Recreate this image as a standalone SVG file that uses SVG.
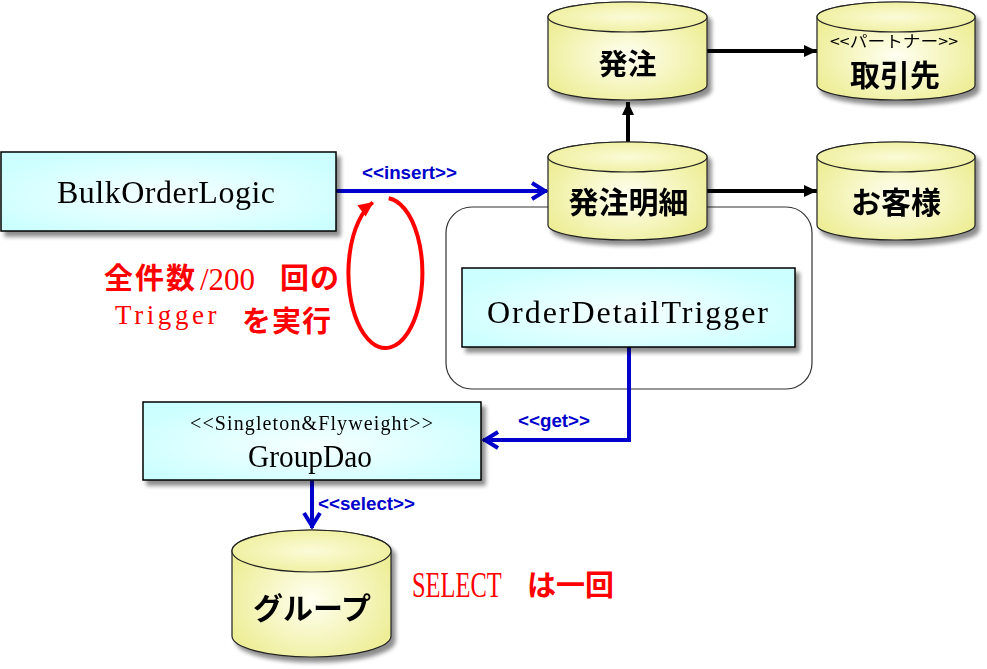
<svg xmlns="http://www.w3.org/2000/svg" width="987" height="669" viewBox="0 0 987 669">
<style>
.box{fill:url(#gBox);stroke:#000;stroke-width:1.5}
.cyl{fill:url(#gCyl);stroke:#222;stroke-width:1.2}
.cylTop{fill:url(#gCylTop);stroke:#222;stroke-width:1.2}
.jp{font-family:"Noto Sans CJK JP","Noto Sans CJK SC",sans-serif;font-weight:bold;fill:#000}
.ser{font-family:"Liberation Serif",serif;fill:#000}
.lbl{font-family:"Liberation Sans",Arial,sans-serif;font-weight:bold;font-size:18px;fill:#0000CC}
.red{fill:#FF0000}
.jpt{font-family:"Noto Sans CJK JP","Noto Sans CJK SC",sans-serif;font-weight:bold}
.sert{font-family:"Liberation Serif",serif;font-weight:normal}
.blue{fill:none;stroke:#0000CC;stroke-width:4}
.blk{fill:none;stroke:#000;stroke-width:4}
</style>
<defs>
<radialGradient id="gBox" cx="50%" cy="55%" r="60%">
<stop offset="0" stop-color="#F6FFFF"/>
<stop offset="1" stop-color="#CCFFFF"/>
</radialGradient>
<radialGradient id="gCyl" cx="50%" cy="55%" r="55%">
<stop offset="0" stop-color="#FFFFF2"/>
<stop offset="1" stop-color="#EEEE99"/>
</radialGradient>
<radialGradient id="gCylTop" cx="50%" cy="50%" r="60%">
<stop offset="0" stop-color="#FBFBD8"/>
<stop offset="1" stop-color="#EEEE99"/>
</radialGradient>
<filter id="sh" x="-10%" y="-10%" width="130%" height="140%">
<feGaussianBlur in="SourceAlpha" stdDeviation="2"/>
<feOffset dx="4" dy="5"/>
<feComponentTransfer><feFuncA type="linear" slope="0.45"/></feComponentTransfer>
<feMerge><feMergeNode/><feMergeNode in="SourceGraphic"/></feMerge>
</filter>
<marker id="aBlue" viewBox="-18 -10 20 20" refX="0" refY="0" markerWidth="20" markerHeight="20" markerUnits="userSpaceOnUse" orient="auto">
<path d="M-15,-8 L-2,0 L-15,8" fill="none" stroke="#0000CC" stroke-width="4"/>
</marker>
<marker id="aBlack" viewBox="-15 -8 16 16" refX="0" refY="0" markerWidth="16" markerHeight="16" markerUnits="userSpaceOnUse" orient="auto">
<path d="M-13,-6 L0,0 L-13,6 Z" fill="#000"/>
</marker>
<marker id="aRed" viewBox="-16 -9 18 18" refX="0" refY="0" markerWidth="18" markerHeight="18" markerUnits="userSpaceOnUse" orient="auto">
<path d="M-14,-7 L1,0 L-14,7 Z" fill="#FF0000"/>
</marker>
</defs>
<rect width="987" height="669" fill="#fff"/>

<g id="trigger-container">
<rect x="446" y="207" width="366" height="182" rx="26" fill="none" stroke="#333" stroke-width="1.2"/>
</g>

<g id="connectors">
<line class="blue" x1="336" y1="191" x2="547" y2="191" marker-end="url(#aBlue)"/>
<text class="lbl" x="362" y="179" textLength="95" lengthAdjust="spacingAndGlyphs">&lt;&lt;insert&gt;&gt;</text>
<polyline class="blue" points="629,347 629,440 483,440" marker-end="url(#aBlue)"/>
<text class="lbl" x="518" y="427" textLength="72" lengthAdjust="spacingAndGlyphs">&lt;&lt;get&gt;&gt;</text>
<line class="blue" x1="312" y1="480" x2="312" y2="528" marker-end="url(#aBlue)"/>
<text class="lbl" x="318" y="510" textLength="97" lengthAdjust="spacingAndGlyphs">&lt;&lt;select&gt;&gt;</text>
<line class="blk" x1="707" y1="51" x2="817" y2="51" marker-end="url(#aBlack)"/>
<line class="blk" x1="707" y1="191" x2="817" y2="191" marker-end="url(#aBlack)"/>
<line class="blk" x1="628" y1="142" x2="628" y2="102" marker-end="url(#aBlack)"/>
<path d="M388.7,198.3 A37,75 0 1 1 372.8,202.5" fill="none" stroke="#FF0000" stroke-width="4" marker-end="url(#aRed)"/>
</g>

<g id="BulkOrderLogic" filter="url(#sh)">
<rect class="box" x="1" y="152" width="335" height="79"/>
<text class="ser" x="57" y="203" font-size="32" textLength="218" lengthAdjust="spacing">BulkOrderLogic</text>
</g>

<g id="OrderDetailTrigger" filter="url(#sh)">
<rect class="box" x="462" y="268" width="333" height="79"/>
<text class="ser" x="487" y="323" font-size="32" textLength="281" lengthAdjust="spacing">OrderDetailTrigger</text>
</g>

<g id="GroupDao" filter="url(#sh)">
<rect class="box" x="143" y="402" width="338" height="78"/>
<text class="ser" x="190" y="430" font-size="20" textLength="243" lengthAdjust="spacing">&lt;&lt;Singleton&amp;Flyweight&gt;&gt;</text>
<text class="ser" x="248" y="467" font-size="31" textLength="124" lengthAdjust="spacingAndGlyphs">GroupDao</text>
</g>

<g id="hacchu" filter="url(#sh)">
<path class="cyl" d="M548,17 L548,85 A79.5,15 0 0 0 707,85 L707,17 A79.5,15 0 0 0 548,17 Z"/>
<ellipse class="cylTop" cx="627.5" cy="17" rx="79.5" ry="15"/>
<text class="jp" x="627.5" y="75" font-size="29" text-anchor="middle">発注</text>
</g>

<g id="torihikisaki" filter="url(#sh)">
<path class="cyl" d="M817,17 L817,85 A79,15 0 0 0 975,85 L975,17 A79,15 0 0 0 817,17 Z"/>
<ellipse class="cylTop" cx="896" cy="17" rx="79" ry="15"/>
<text class="jp" x="894" y="47" font-size="16" text-anchor="middle" textLength="128" lengthAdjust="spacingAndGlyphs" style="font-weight:normal">&lt;&lt;パートナー&gt;&gt;</text>
<text class="jp" x="895" y="86" font-size="30" text-anchor="middle">取引先</text>
</g>

<g id="hacchumeisai" filter="url(#sh)">
<path class="cyl" d="M548,157 L548,225 A79.5,15 0 0 0 707,225 L707,157 A79.5,15 0 0 0 548,157 Z"/>
<ellipse class="cylTop" cx="627.5" cy="157" rx="79.5" ry="15"/>
<text class="jp" x="628.5" y="213" font-size="30" text-anchor="middle">発注明細</text>
</g>

<g id="okyakusama" filter="url(#sh)">
<path class="cyl" d="M817,157 L817,225 A79,15 0 0 0 975,225 L975,157 A79,15 0 0 0 817,157 Z"/>
<ellipse class="cylTop" cx="896" cy="157" rx="79" ry="15"/>
<text class="jp" x="896" y="213" font-size="30" text-anchor="middle">お客様</text>
</g>

<g id="group" filter="url(#sh)">
<path class="cyl" d="M232,551 L232,636 A79.5,21 0 0 0 391,636 L391,551 A79.5,21 0 0 0 232,551 Z"/>
<ellipse class="cylTop" cx="311.5" cy="551" rx="79.5" ry="21"/>
<text class="jp" x="312" y="619" font-size="30" text-anchor="middle">グループ</text>
</g>

<g id="note-loop">
<text class="red"><tspan class="jpt" x="104" y="289" font-size="29" letter-spacing="2">全件数</tspan><tspan class="sert" x="200" y="290" font-size="31">/200</tspan><tspan class="jpt" x="280" y="289" font-size="29" letter-spacing="1">回の</tspan><tspan class="sert" x="115" y="324" font-size="27" letter-spacing="3.6">Trigger</tspan><tspan class="jpt" x="242" y="332" font-size="29" letter-spacing="1">を実行</tspan></text>
</g>

<g id="note-select">
<text class="ser red" transform="translate(412,597) scale(0.68,1)" x="0" y="0" font-size="36">SELECT</text>
<text class="jp red" x="527" y="596" font-size="29">は一回</text>
</g>
</svg>
